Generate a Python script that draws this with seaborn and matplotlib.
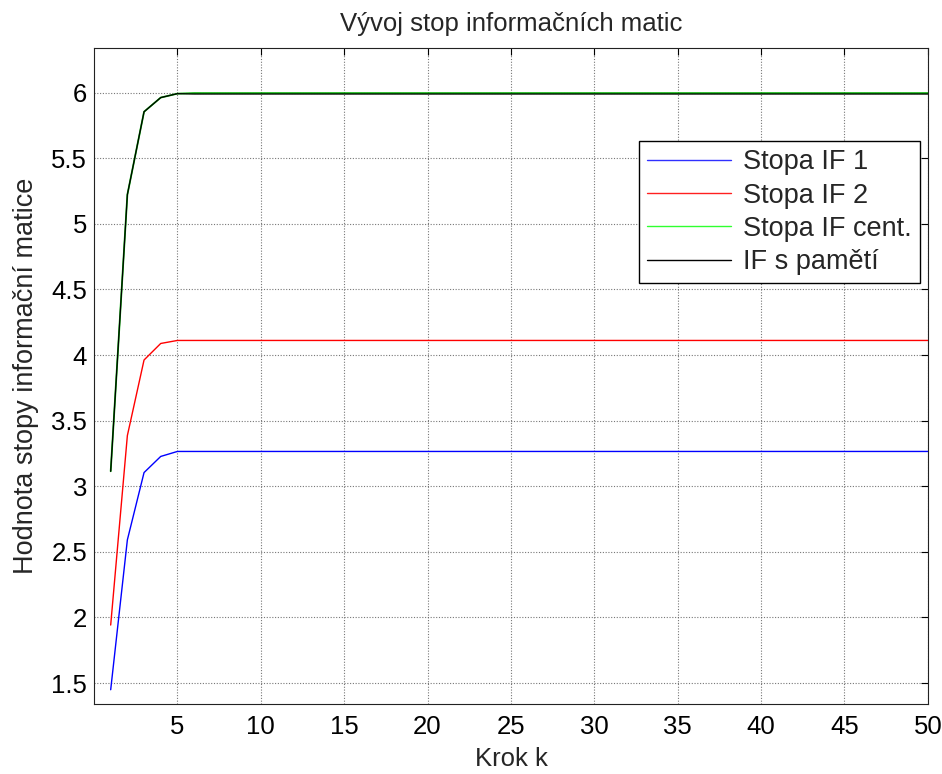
import numpy as np
import pandas as pd
import matplotlib
matplotlib.use("Agg")
import matplotlib.pyplot as plt
import seaborn as sns
from matplotlib.lines import Line2D

# ---- data ----
steps = list(range(1, 51))
head_if1 = [1.449, 2.591, 3.104, 3.227, 3.265]
head_if2 = [1.942, 3.386, 3.962, 4.088, 4.111]
head_cent = [3.114, 5.222, 5.854, 5.962, 5.992]
stopa_if1 = head_if1 + [3.265] * 45
stopa_if2 = head_if2 + [4.111] * 45
stopa_cent = head_cent + [5.996] * 45
if_pamet = head_cent + [5.989] * 45

series_names = ["Stopa IF 1", "Stopa IF 2", "Stopa IF cent.", "IF s pamětí"]
series_vals = [stopa_if1, stopa_if2, stopa_cent, if_pamet]
series_colors = ["#0000ff", "#ff0000", "#00b000", "#000000"]
legend_colors = ["#3030ff", "#ff2020", "#30ff30", "#000000"]

xticks = [5, 10, 15, 20, 25, 30, 35, 40, 45, 50]
yticks = [1.5, 2, 2.5, 3, 3.5, 4, 4.5, 5, 5.5, 6]

title = "Vývoj stop informačních matic"
xlabel = "Krok k"
ylabel = "Hodnota stopy informační matice"

df = pd.DataFrame({
    "k": steps * 4,
    "val": sum(series_vals, []),
    "series": sum([[n] * len(steps) for n in series_names], []),
})

sns.set_theme(style="white")
plt.rcParams["font.family"] = ["Liberation Sans", "DejaVu Sans"]

FS = 18.5

fig = plt.figure(figsize=(9.42, 7.74), dpi=100)
ax = fig.add_axes([0.0998, 0.0904, 0.8852, 0.8476])

order = ["Stopa IF 1", "Stopa IF 2", "Stopa IF cent.", "IF s pamětí"]
widths = {"Stopa IF 1": 1.0, "Stopa IF 2": 1.0, "Stopa IF cent.": 1.3, "IF s pamětí": 0.9}
for name in order:
    i = series_names.index(name)
    sub = df[df["series"] == name]
    sns.lineplot(data=sub, x="k", y="val", ax=ax, color=series_colors[i],
                 linewidth=widths[name], legend=False, zorder=3)

ax.set_xlim(0, 50)
ax.set_ylim(1.34, 6.34)
ax.set_xticks(xticks)
ax.set_yticks(yticks)
ax.set_xticklabels([str(t) for t in xticks])
ax.set_yticklabels([("%g" % t) for t in yticks])
ax.grid(True, color="#555555", linestyle=(0, (1, 1.5)), linewidth=0.8, alpha=0.8)
ax.tick_params(direction="in", length=5, width=0.8, colors="black", labelsize=FS,
               top=True, right=True, pad=5)
ax.tick_params(axis="x", pad=8)
for s in ax.spines.values():
    s.set_color("#222222")
    s.set_linewidth(0.8)

ax.set_title(title, fontsize=18.5, pad=12)
ax.set_xlabel(xlabel, fontsize=FS, labelpad=6)
ax.set_ylabel(ylabel, fontsize=19.5, labelpad=9)

handles = [Line2D([0], [0], color=c, lw=1.0) for c in legend_colors]
leg = ax.legend(handles, series_names, loc="upper right", bbox_to_anchor=(0.9904, 0.858),
                fontsize=19.5, frameon=True, fancybox=False, edgecolor="black",
                handlelength=3.1, handletextpad=0.45, labelspacing=0.27,
                borderpad=0.3, borderaxespad=0)
leg.get_frame().set_linewidth(1.0)
leg.get_frame().set_facecolor("white")
leg.get_frame().set_alpha(1.0)

fig.savefig("out.png", dpi=100, facecolor="white")
